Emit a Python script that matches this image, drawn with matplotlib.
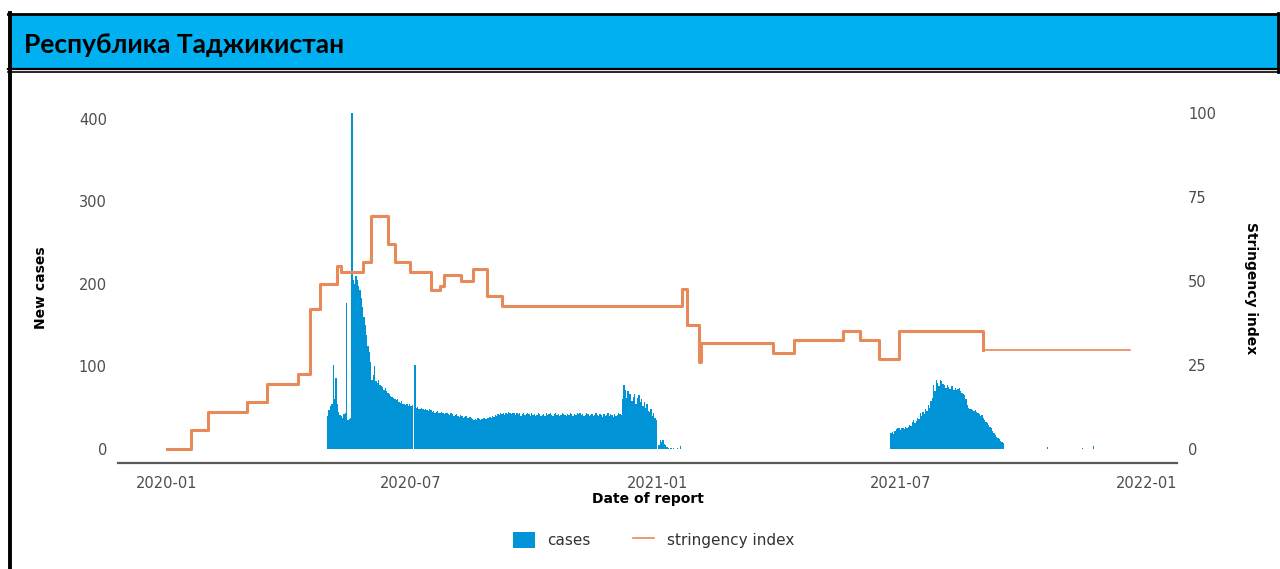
import numpy as np
import pandas as pd
import matplotlib
matplotlib.use("Agg")
import matplotlib.pyplot as plt
import matplotlib.dates as mdates
from matplotlib.patches import Rectangle, Patch
from matplotlib.lines import Line2D

### Data ###

title = "Республика Таджикистан"

# daily new cases, first wave (starts 2020-04-30)
wave1_start = "2020-04-30"
wave1 = [40, 47, 52, 55, 102, 60, 86, 55, 45, 41,
         40, 38, 42, 44, 177, 35, 36, 38, 407, 205,
         200, 209, 205, 198, 192, 183, 172, 160, 150, 138,
         125, 118, 105, 84, 90, 100, 82, 80, 84, 78,
         76, 75, 72, 74, 70, 68, 67, 64, 63, 62,
         60, 59, 61, 57, 56, 58, 55, 54, 53, 55,
         52, 54, 52, 53, 0, 102, 50, 51, 49, 48,
         50, 49, 47, 48, 47, 46, 48, 47, 45, 46,
         44, 45, 46, 44, 43, 45, 44, 42, 43, 44,
         42, 41, 43, 42, 40, 41, 42, 40, 39, 41,
         40, 38, 39, 40, 38, 37, 39, 38, 36, 35,
         36, 35, 37, 36, 35, 36, 38, 37, 36, 38,
         37, 39, 38, 40, 39, 41, 40, 42, 41, 43,
         42, 44, 41, 43, 42, 45, 43, 42, 44, 43,
         41, 43, 42, 44, 40, 42, 43, 41, 42, 44,
         42, 40, 43, 41, 42, 40, 41, 43, 42, 40,
         41, 42, 40, 43, 41, 42, 44, 41, 40, 42,
         43, 41, 42, 40, 41, 43, 42, 41, 40, 42,
         41, 43, 42, 40, 42, 41, 43, 42, 44, 41,
         42, 40, 41, 43, 42, 40, 41, 42, 40, 41,
         43, 41, 40, 42, 41, 39, 42, 40, 41, 43,
         40, 42, 41, 39, 42, 40, 41, 43, 42, 41,
         60, 78, 72, 62, 70, 66, 67, 58, 63, 66,
         55, 62, 65, 57, 60, 52, 57, 50, 54, 46,
         45, 48, 40, 44, 37, 35, 0, 5, 11, 8,
         11, 6, 5, 2, 1, 0, 1, 0, 1, 0,
         0, 1, 0, 3]

# second wave (starts 2021-06-24)
wave2_start = "2021-06-24"
wave2 = [19, 21, 18, 22, 24, 26, 25, 23, 25, 26,
         24, 27, 26, 27, 29, 28, 33, 35, 31, 34,
         38, 36, 43, 40, 45, 42, 48, 46, 53, 50,
         58, 62, 78, 70, 84, 80, 76, 83, 82, 79,
         77, 74, 78, 75, 73, 76, 76, 72, 74, 71,
         73, 74, 70, 68, 66, 65, 60, 53, 50, 49,
         48, 47, 46, 47, 45, 44, 42, 40, 41, 38,
         35, 33, 31, 29, 27, 25, 22, 19, 17, 15,
         13, 12, 10, 9, 7]

# isolated late reports
late_dates = ["2021-10-19", "2021-11-14", "2021-11-22"]
late_cases = [2, 1, 3]

# stringency index (step changes)
si_dates = ["2020-01-01", "2020-01-19", "2020-02-01", "2020-03-01", "2020-03-16",
            "2020-04-08", "2020-04-17", "2020-04-24", "2020-05-07", "2020-05-10",
            "2020-05-26", "2020-06-01", "2020-06-14", "2020-06-19", "2020-06-30",
            "2020-07-16", "2020-07-23", "2020-07-26", "2020-08-07", "2020-08-16",
            "2020-08-27", "2020-09-07", "2021-01-19", "2021-01-23", "2021-02-01",
            "2021-02-02", "2021-03-28", "2021-04-13", "2021-05-19", "2021-06-01",
            "2021-06-15", "2021-06-30", "2021-09-01", "2021-12-19"]
si_values = [0, 5.6, 11.1, 13.9, 19.4,
             22.2, 41.7, 49.1, 54.6, 52.8,
             55.6, 69.4, 61.1, 55.6, 52.8,
             47.2, 48.6, 51.9, 50.0, 53.7,
             45.4, 42.6, 47.7, 36.9, 26.0,
             31.5, 28.7, 32.4, 35.2, 32.4,
             26.9, 35.2, 29.6, 29.6]

left_ticks = [0, 100, 200, 300, 400]
right_ticks = [0, 25, 50, 75, 100]
x_ticks = ["2020-01-01", "2020-07-01", "2021-01-01", "2021-07-01", "2022-01-01"]

### Plot ###

W, H = 1280, 569
blue = "#0094D6"
orange = "#E8895A"
tick_col = "#4D4D4D"
font = "DejaVu Sans"

def fx(px):
    return px / W

def fy(py):
    return 1 - py / H

fig = plt.figure(figsize=(W / 100, H / 100), dpi=100)
fig.patch.set_facecolor("white")

# header band + frame
fig.add_artist(Rectangle((fx(10), fy(68)), 1 - fx(10), (68 - 15) / H,
                         transform=fig.transFigure, color="#00B0F0", lw=0))
fig.add_artist(Line2D([fx(8), 1], [fy(13.5), fy(13.5)], transform=fig.transFigure, color="black", lw=2))
fig.add_artist(Line2D([fx(8), 1], [fy(69), fy(69)], transform=fig.transFigure, color="black", lw=1.6))
fig.add_artist(Line2D([fx(8), 1], [fy(72), fy(72)], transform=fig.transFigure, color="black", lw=1.2))
fig.add_artist(Line2D([fx(9.5), fx(9.5)], [fy(12.5), 0], transform=fig.transFigure, color="black", lw=2.8))
fig.add_artist(Line2D([fx(1277.5), fx(1277.5)], [fy(12.5), fy(72)], transform=fig.transFigure, color="black", lw=2))
fig.text(fx(24), fy(45), title, fontsize=19, fontweight="bold", family="Lato",
         va="center", ha="left", color="black")

ax = fig.add_axes([fx(118), fy(463), fx(1177) - fx(118), (463 - 113) / H])
ax2 = ax.twinx()
ax.set_zorder(1)
ax2.set_zorder(2)
ax.patch.set_visible(False)
ax2.patch.set_visible(False)

d1 = pd.date_range(wave1_start, periods=len(wave1), freq="D")
d2 = pd.date_range(wave2_start, periods=len(wave2), freq="D")
dates = list(d1) + list(d2) + list(pd.to_datetime(late_dates))
cases = wave1 + wave2 + late_cases
ax.bar(dates, cases, width=1.0, color=blue, linewidth=0, align="center")

sd = pd.to_datetime(si_dates)
k = si_dates.index("2021-09-01")
ax2.step(sd[:k + 1], si_values[:k + 1], where="post", color=orange, lw=2.2)
ax2.step(sd[k:], si_values[k:], where="post", color=orange, lw=1.2)

ax.set_xlim(pd.Timestamp("2019-11-25 12:00"), pd.Timestamp("2022-01-23 10:00"))
ax.set_ylim(-17, 407)
ax2.set_ylim(-4.17, 100)

ax.set_xticks(pd.to_datetime(x_ticks))
ax.xaxis.set_major_formatter(mdates.DateFormatter("%Y-%m"))
ax.set_yticks(left_ticks)
ax2.set_yticks(right_ticks)

for a in (ax, ax2):
    for s in a.spines.values():
        s.set_visible(False)
    a.tick_params(length=0, labelsize=10.5, labelcolor=tick_col)
    for lab in a.get_xticklabels() + a.get_yticklabels():
        lab.set_family(font)
ax.spines["bottom"].set_visible(True)
ax.spines["bottom"].set_color("#5A5A5A")
ax.spines["bottom"].set_linewidth(1.6)
ax.tick_params(axis="x", pad=9)
ax.tick_params(axis="y", pad=8)
ax2.tick_params(axis="y", pad=8)

ax.set_xlabel("Date of report", fontsize=10, fontweight="bold", family=font, labelpad=1)
ax.set_ylabel("New cases", fontsize=10, fontweight="bold", family=font, labelpad=22)
ax2.set_ylabel("Stringency index", fontsize=10, fontweight="bold", family=font,
               rotation=270, labelpad=30)

handles = [Patch(facecolor=blue, edgecolor="none", label="cases"),
           Line2D([], [], color=orange, lw=1.2, label="stringency index")]
leg = fig.legend(handles=handles, loc="center", bbox_to_anchor=(fx(654), fy(540)), ncol=2,
                 frameon=False, handlelength=1.4, handleheight=1.3,
                 handletextpad=0.85, columnspacing=2.75,
                 prop={"family": font, "size": 11})
for t in leg.get_texts():
    t.set_color("#333333")

fig.savefig("out.png", dpi=100)
